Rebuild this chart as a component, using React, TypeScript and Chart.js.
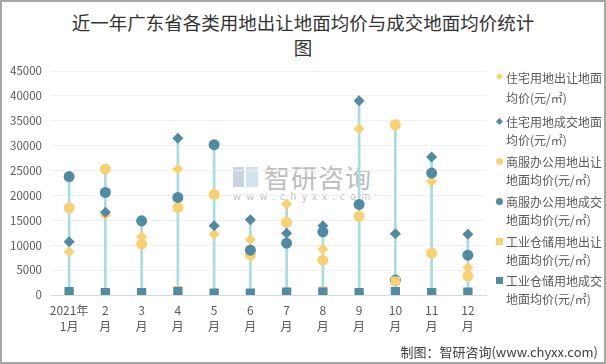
import React, { useEffect, useRef } from "react";
import { Chart, registerables } from "chart.js";

Chart.register(...registerables);

const titleLines = ["近一年广东省各类用地出让地面均价与成交地面均价统计", "图"];
const sourceText = "制图：智研咨询(www.chyxx.com)";

const months: string[][] = [
  ["2021年", "1月"], ["2", "月"], ["3", "月"], ["4", "月"], ["5", "月"], ["6", "月"],
  ["7", "月"], ["8", "月"], ["9", "月"], ["10", "月"], ["11", "月"], ["12", "月"],
];

const residentialSale = [8700, 16000, 11700, 25300, 12200, 11100, 18300, 9200, 33400, 12300, 22800, 5500];
const residentialDeal = [10700, 16600, 14800, 31500, 13900, 15100, 12400, 13900, 39000, 12300, 27700, 12200];
const commercialSale = [17500, 25300, 10200, 17600, 20200, 8000, 14600, 7000, 15800, 34200, 8400, 3800];
const commercialDeal = [23800, 20600, 14900, 19600, 30200, 9000, 10400, 12700, 18200, 3000, 24500, 8000];
const industrialSale = [150, 300, 300, 900, 200, 300, 200, 800, 300, 2800, 200, 400];
const industrialDeal = [700, 500, 500, 700, 400, 400, 600, 600, 500, 700, 500, 600];

const yTicks = [0, 5000, 10000, 15000, 20000, 25000, 30000, 35000, 40000, 45000];

const seriesNames = [
  "住宅用地出让地面均价(元/㎡)",
  "住宅用地成交地面均价(元/㎡)",
  "商服办公用地出让地面均价(元/㎡)",
  "商服办公用地成交地面均价(元/㎡)",
  "工业仓储用地出让地面均价(元/㎡)",
  "工业仓储用地成交地面均价(元/㎡)",
];
const legendLines: string[][] = [
  ["住宅用地出让地面", "均价(元/㎡)"],
  ["住宅用地成交地面", "均价(元/㎡)"],
  ["商服办公用地出让", "地面均价(元/㎡)"],
  ["商服办公用地成交", "地面均价(元/㎡)"],
  ["工业仓储用地出让", "地面均价(元/㎡)"],
  ["工业仓储用地成交", "地面均价(元/㎡)"],
];

const YELLOW = "#F8D272";
const DARK = "#4F8BA3";
const LINE = "#A9DCDC";
const FONT = "'Noto Sans CJK SC', 'Noto Sans', sans-serif";

const seriesStyle = [
  { color: YELLOW, shape: "rectRot", radius: 5.5 },
  { color: DARK, shape: "rectRot", radius: 5.5 },
  { color: YELLOW, shape: "circle", radius: 5.5 },
  { color: DARK, shape: "circle", radius: 5.5 },
  { color: YELLOW, shape: "rect", radius: 6.5 },
  { color: DARK, shape: "rect", radius: 6.5 },
];

function Marker({ shape, color }: { shape: string; color: string }) {
  const base: React.CSSProperties = { display: "inline-block", background: color, position: "absolute", left: 0, top: 6 };
  if (shape === "rectRot") return <span style={{ ...base, width: 5, height: 5, transform: "rotate(45deg)", left: 1 }} />;
  if (shape === "circle") return <span style={{ ...base, width: 7, height: 7, borderRadius: "50%", top: 5 }} />;
  return <span style={{ ...base, width: 7, height: 7, top: 5 }} />;
}

export default function App() {
  const ref = useRef<HTMLCanvasElement>(null);

  useEffect(() => {
    document.body.style.margin = "0";
    const series = [residentialSale, residentialDeal, commercialSale, commercialDeal, industrialSale, industrialDeal];
    const ranges = months.map((_, i) => {
      const vals = series.map((s) => s[i]);
      return [Math.min(...vals), Math.max(...vals)];
    });
    const pointSets = series.map((s, k) => ({
      type: "line" as const,
      label: seriesNames[k],
      data: s,
      showLine: false,
      pointStyle: seriesStyle[k].shape as any,
      pointRadius: seriesStyle[k].radius,
      pointBackgroundColor: seriesStyle[k].color,
      pointBorderColor: seriesStyle[k].color,
      pointBorderWidth: 0,
      borderColor: seriesStyle[k].color,
      backgroundColor: seriesStyle[k].color,
      order: 6 - k,
    }));
    const chart = new Chart(ref.current!, {
      type: "bar",
      data: {
        labels: months,
        datasets: [
          {
            type: "bar",
            label: "range",
            data: ranges as any,
            backgroundColor: LINE,
            barThickness: 2,
            order: 20,
          },
          ...pointSets,
        ] as any,
      },
      options: {
        responsive: false,
        animation: false,
        layout: { padding: { left: 0, right: 120, top: 71, bottom: 0 } },
        plugins: {
          legend: { display: false },
          tooltip: { enabled: false },
          title: { display: false },
        },
        scales: {
          x: {
            grid: { display: false, drawTicks: false },
            border: { color: "#D9D9D9", width: 1 },
            ticks: {
              color: "#595959",
              font: { family: FONT, size: 12, lineHeight: 1.3 },
              maxRotation: 0,
              autoSkip: false,
              padding: 8,
            },
            afterFit: (scale: any) => {
              scale.height = 69;
            },
          },
          y: {
            min: yTicks[0],
            max: yTicks[yTicks.length - 1],
            grid: { color: "#F0F0F0", drawTicks: false },
            border: { display: false },
            afterBuildTicks: (scale: any) => {
              scale.ticks = yTicks.map((v) => ({ value: v }));
            },
            ticks: {
              color: "#595959",
              font: { family: FONT, size: 11.5 },
              padding: 9,
              callback: (v: any) => String(v),
            },
            afterFit: (scale: any) => {
              scale.width = 51;
            },
          },
        },
      },
    });
    return () => chart.destroy();
  }, []);

  const itemTops = [0, 45, 85, 125, 165, 204];

  return (
    <div style={{ position: "relative", width: 606, height: 364, background: "#ffffff", overflow: "hidden" }}>
      <div style={{ position: "absolute", left: 0, top: 10, width: 606, textAlign: "center", fontFamily: FONT, fontSize: 18.5, lineHeight: "25px", color: "#333333" }}>
        {titleLines.map((t, i) => (
          <div key={i}>{t}</div>
        ))}
      </div>
      <div style={{ position: "absolute", left: 233, top: 163, width: 150, height: 45, pointerEvents: "none" }}>
        <div style={{ position: "absolute", left: 0, top: 4, width: 11, height: 20, background: "#C9D3E3" }} />
        <div style={{ position: "absolute", left: 13, top: 4, width: 12, height: 20, background: "#CFE3F1" }} />
        <div style={{ position: "absolute", left: 31, top: -2, fontFamily: FONT, fontSize: 26, color: "#BDBDBD", lineHeight: "32px", letterSpacing: 1 }}>智研咨询</div>
        <div style={{ position: "absolute", left: 0, top: 27, fontFamily: FONT, fontSize: 10, color: "#BDBDBD", letterSpacing: 5.2, lineHeight: "12px", whiteSpace: "nowrap" }}>www.chyxx.com</div>
      </div>
      <canvas ref={ref} width={606} height={364} style={{ position: "absolute", left: 0, top: 0 }} />
      <div style={{ position: "absolute", left: 496, top: 68, width: 110, fontFamily: FONT, fontSize: 12, color: "#595959" }}>
        {legendLines.map((lines, i) => (
          <div key={i} style={{ position: "absolute", left: 0, top: itemTops[i], paddingLeft: 10, lineHeight: i === 0 ? "20px" : "18px", whiteSpace: "nowrap" }}>
            <Marker shape={seriesStyle[i].shape} color={seriesStyle[i].color} />
            {lines.map((t, j) => (
              <div key={j}>{t}</div>
            ))}
          </div>
        ))}
      </div>
      <div style={{ position: "absolute", right: 8, top: 343, fontFamily: FONT, fontSize: 13, color: "#404040", whiteSpace: "nowrap", lineHeight: "18px" }}>
        {sourceText}
      </div>
      <div style={{ position: "absolute", left: 0, top: 0, width: 606, height: 364, boxSizing: "border-box", border: "2px solid #A6A6A6", pointerEvents: "none" }} />
    </div>
  );
}
